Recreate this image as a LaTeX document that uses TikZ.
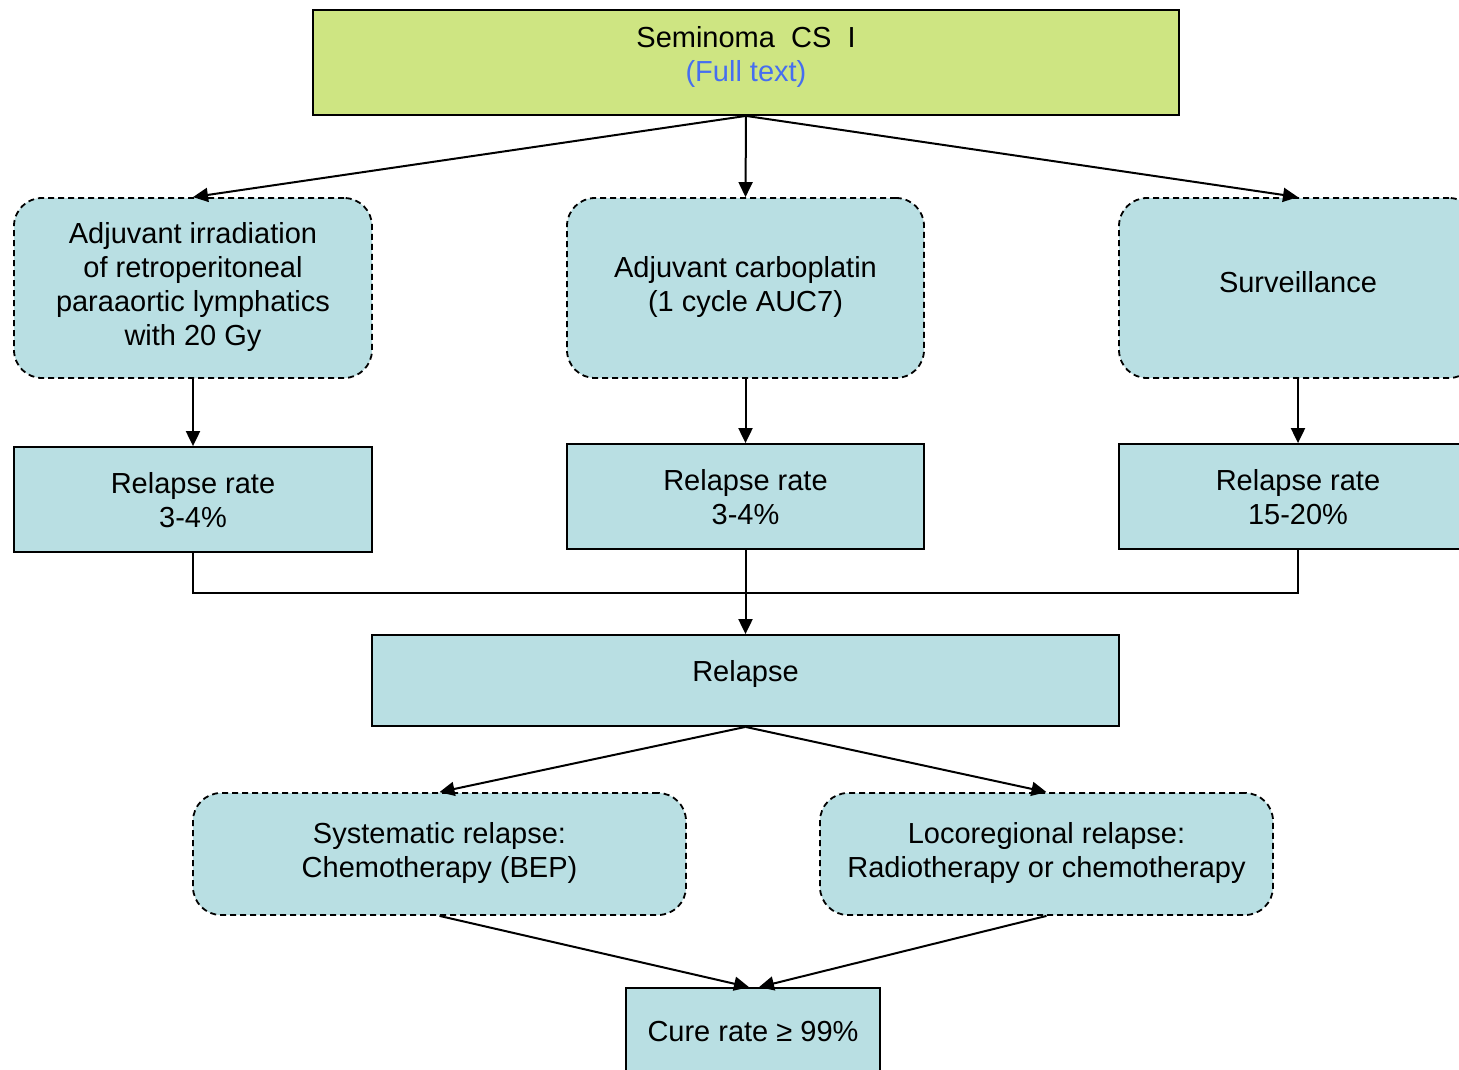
\documentclass[tikz,border=0pt]{standalone}
\usepackage{fontspec}
\setmainfont{Liberation Sans}
\usetikzlibrary{arrows.meta}
\definecolor{topgreen}{RGB}{206,229,130}
\definecolor{boxblue}{RGB}{185,223,227}
\definecolor{linkblue}{RGB}{70,110,240}
\begin{document}
\begin{tikzpicture}[x=1pt,y=-1pt,
  box/.style={draw=black, line width=1.8pt, fill=boxblue, inner sep=0pt},
  rbox/.style={box, dash pattern=on 6pt off 4pt, rounded corners=28pt},
  txt/.style={font=\fontsize{29}{34}\selectfont, align=center, inner sep=0pt},
  arr/.style={line width=2pt, -{Triangle[length=15pt,width=14pt]}},
  ln/.style={line width=2pt}]
\useasboundingbox (0,0) rectangle (1459,1069);
\clip (0,0) rectangle (1459,1069);
\fill[white] (0,0) rectangle (1459,1069);
% boxes
\node[box, fill=topgreen, minimum width=866pt, minimum height=105pt] (top) at (746,62.5) {};
\node[rbox, minimum width=358pt, minimum height=180pt] (a1) at (193,288) {};
\node[rbox, minimum width=357pt, minimum height=180pt] (a2) at (745.5,288) {};
\node[rbox, minimum width=358pt, minimum height=180pt] (a3) at (1298,288) {};
\node[box, minimum width=358pt, minimum height=105pt] (r1) at (193,499.5) {};
\node[box, minimum width=357pt, minimum height=105pt] (r2) at (745.5,496.5) {};
\node[box, minimum width=358pt, minimum height=105pt] (r3) at (1298,496.5) {};
\node[box, minimum width=747pt, minimum height=91pt] (rel) at (745.5,680.5) {};
\node[rbox, minimum width=493pt, minimum height=122pt] (s1) at (439.5,854) {};
\node[rbox, minimum width=453pt, minimum height=122pt] (s2) at (1046.5,854) {};
\node[box, minimum width=254pt, minimum height=86pt] (cure) at (753,1031) {};
% texts
\node[txt] (ttop) at (746,57) {Seminoma\ \ CS\ \ I\\\textcolor{linkblue}{(Full text)}};
\node[txt] (ta1) at (193,287) {Adjuvant irradiation\\of retroperitoneal\\paraaortic lymphatics\\with 20 Gy};
\node[txt] (ta2) at (745.5,287) {Adjuvant carboplatin\\(1 cycle AUC7)};
\node[txt] (ta3) at (1298,282) {Surveillance};
\node[txt] (tr1) at (193,500) {Relapse rate\\3-4\%};
\node[txt] (tr2) at (745.5,497) {Relapse rate\\3-4\%};
\node[txt] (tr3) at (1298,497) {Relapse rate\\15-20\%};
\node[txt] (trel) at (745.5,674) {Relapse};
\node[txt] (ts1) at (439.5,853) {Systematic relapse:\\Chemotherapy (BEP)};
\node[txt] (ts2) at (1046.5,853) {Locoregional relapse:\\Radiotherapy or chemotherapy};
\node[txt] (tcure) at (753,1032) {Cure rate ≥ 99\%};
% connectors
\coordinate (j) at (745.5,593);
\draw[arr] (top.south) -- (a1.north);
\draw[arr] (top.south) -- (a2.north);
\draw[arr] (top.south) -- (a3.north);
\draw[arr] (a1.south) -- (r1.north);
\draw[arr] (a2.south) -- (r2.north);
\draw[arr] (a3.south) -- (r3.north);
\draw[ln] (r1.south) |- (j);
\draw[ln] (r3.south) |- (j);
\draw[arr] (r2.south) -- (rel.north);
\draw[arr] (rel.south) -- (s1.north);
\draw[arr] (rel.south) -- (s2.north);
\draw[arr] (s1.south) -- ([xshift=-4pt]cure.north);
\draw[arr] (s2.south) -- ([xshift=6pt]cure.north);
\end{tikzpicture}
\end{document}
